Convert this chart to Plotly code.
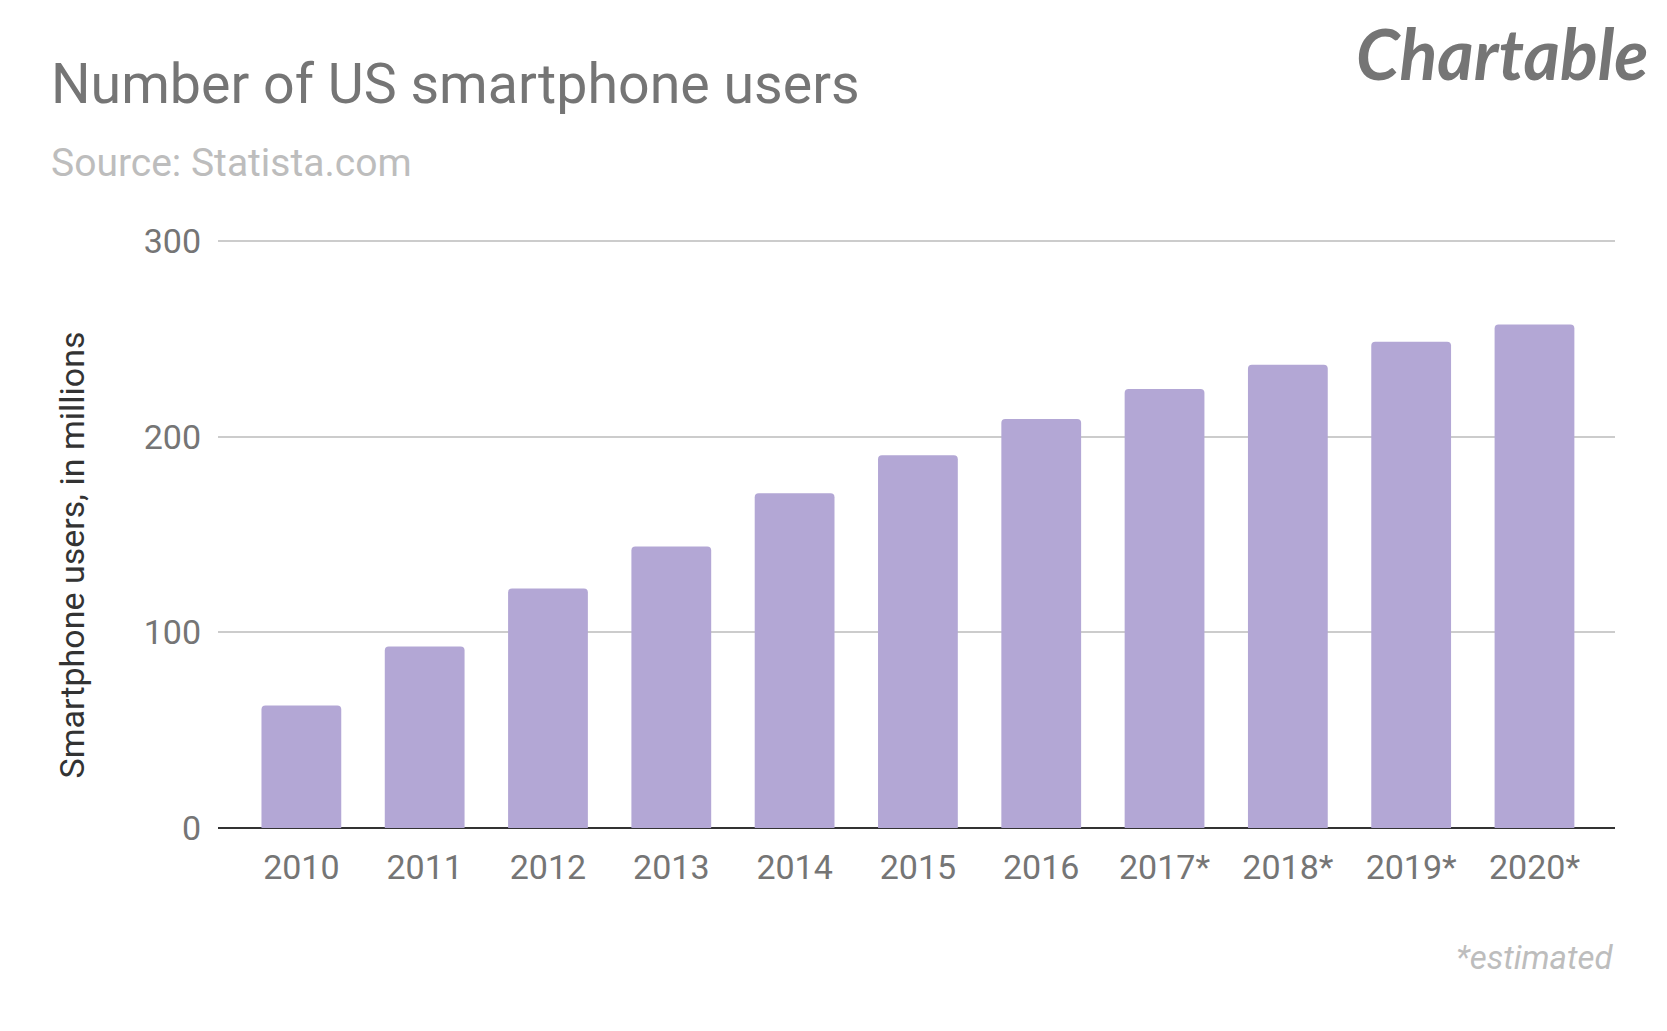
import plotly.graph_objects as go

years = ["2010", "2011", "2012", "2013", "2014", "2015", "2016", "2017*", "2018*", "2019*", "2020*"]
users = [62.6, 92.8, 122.4, 143.9, 171.1, 190.5, 209.0, 224.3, 236.8, 248.5, 257.3]
y_ticks = [0, 100, 200, 300]

W, H = 1667, 1031
OFF = 8  # page body margin compensation
Y_TOP_VAL, Y_MAX = 300, 301
plot_left, plot_right = 218 - OFF, 1615 - OFF
y300_px, y0_px = 240.5 - OFF, 828.5 - OFF
PH = (y0_px - y300_px) * Y_MAX / Y_TOP_VAL
L = plot_left
R = W - plot_right
B = H - y0_px
T = y0_px - PH
PW = plot_right - plot_left

def px(x):
    return (x - OFF - L) / PW

def py(y):
    return (y0_px - (y - OFF)) / PH

fig = go.Figure()
fig.add_trace(go.Bar(
    x=years, y=users,
    marker=dict(color="#b3a7d5", cornerradius=4, line=dict(width=0)),
    hoverinfo="x+y",
))

font_family = "Roboto"

fig.update_layout(
    width=W, height=H,
    margin=dict(l=L, r=R, t=T, b=B, autoexpand=False),
    paper_bgcolor="white", plot_bgcolor="white",
    bargap=0.353,
    showlegend=False,
    font=dict(family=font_family, color="#757575"),
    xaxis=dict(
        type="category",
        range=[-0.676, 10.653],
        showgrid=False, showline=False, zeroline=False,
        tickfont=dict(size=34, color="#757575"),
        ticklabelstandoff=16,
        fixedrange=True,
    ),
    yaxis=dict(
        range=[0, Y_MAX],
        tickvals=y_ticks,
        showgrid=True, gridcolor="#cccccc", gridwidth=2,
        zeroline=True, zerolinecolor="#333333", zerolinewidth=2,
        showline=False,
        tickfont=dict(size=34, color="#757575"),
        ticklabelstandoff=16,
        fixedrange=True,
    ),
    annotations=[
        dict(text="Number of US smartphone users", x=px(49), y=py(84),
             xref="paper", yref="paper", xanchor="left", yanchor="middle",
             showarrow=False, font=dict(size=55.5, color="#757575", family=font_family)),
        dict(text="Source: Statista.com", x=px(49), y=py(162),
             xref="paper", yref="paper", xanchor="left", yanchor="middle",
             showarrow=False, font=dict(size=39, color="#bdbdbd", family=font_family)),
        dict(text="Smartphone users, in millions", x=px(72), y=py(555.5),
             xref="paper", yref="paper", xanchor="center", yanchor="middle",
             textangle=-90, showarrow=False,
             font=dict(size=34, color="#333333", family=font_family)),
        dict(text="<i>*estimated</i>", x=px(1615), y=py(958),
             xref="paper", yref="paper", xanchor="right", yanchor="middle",
             showarrow=False, font=dict(size=33, color="#bdbdbd", family=font_family)),
        dict(text="<b><i>Chartable</i></b>", x=px(1650), y=py(52),
             xref="paper", yref="paper", xanchor="right", yanchor="middle",
             showarrow=False, font=dict(size=70, color="#757575", family="Lato")),
    ],
)

fig.write_html("out.html")
